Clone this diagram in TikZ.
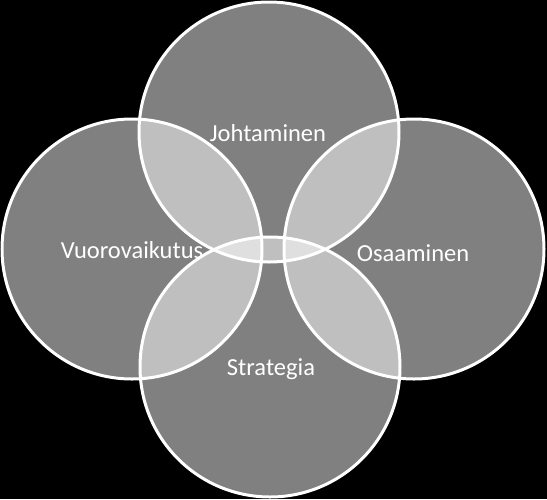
\documentclass[tikz,border=0pt]{standalone}
\usepackage{fontspec}
\setmainfont{Carlito}
\begin{document}
\begin{tikzpicture}[x=1pt,y=-1pt,
  petal/.style={fill=white,fill opacity=0.5},
  rim/.style={draw=white,line width=3pt},
  lbl/.style={text=white,font=\fontsize{24.5}{28}\selectfont,inner sep=0pt}]
\fill[black] (0,0) rectangle (547,499);
\useasboundingbox (0,0) rectangle (547,499);
\coordinate (cT) at (269,132);
\coordinate (cB) at (270,367);
\coordinate (cL) at (132,249);
\coordinate (cR) at (414,249);
\foreach \c in {cT,cB,cL,cR} \fill[petal] (\c) circle (130pt);
\node[lbl] (jo) at (268,133) {Johtaminen};
\node[lbl] (vu) at (132,250) {Vuorovaikutus};
\node[lbl] (os) at (413,253) {Osaaminen};
\node[lbl] (st) at (271,369) {Strategia};
\foreach \c in {cT,cB,cL,cR} \draw[rim] (\c) circle (130pt);
\end{tikzpicture}
\end{document}
